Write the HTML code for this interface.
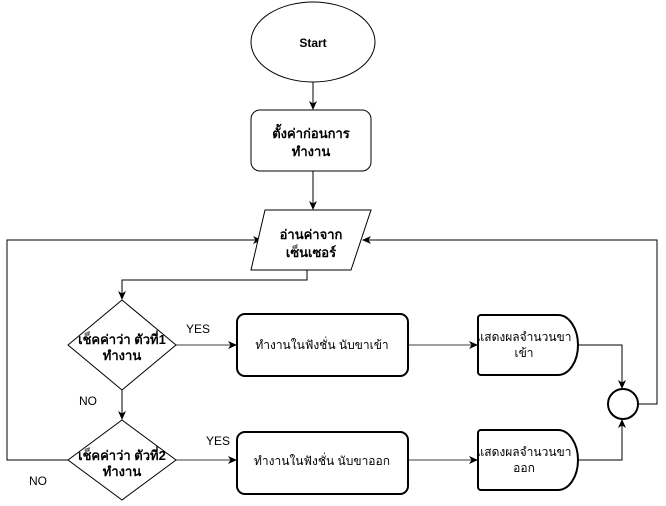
<!DOCTYPE html>
<html><head><meta charset="utf-8"><style>
html,body{margin:0;padding:0;background:#fff;}
text{font-family:"Liberation Sans","DejaVu Sans",sans-serif;font-size:12px;fill:#000;}
.b{font-size:13px;font-weight:bold;}
</style></head><body>
<svg width="666" height="501" viewBox="0 0 666 501" xmlns="http://www.w3.org/2000/svg">
<defs>
<marker id="a" markerWidth="10" markerHeight="10" refX="8" refY="5" orient="auto" markerUnits="userSpaceOnUse">
<path d="M0,1 L9,5 L0,9 L2.5,5 Z" fill="#000"/></marker>
</defs>
<g fill="none" stroke="#000" stroke-width="1">
<path d="M313,82 V109" marker-end="url(#a)"/>
<path d="M313,171 V209" marker-end="url(#a)"/>
<path d="M307,270 V280 H122 V299" marker-end="url(#a)"/>
<path d="M122,390 V419" marker-end="url(#a)"/>
<path d="M68,460 H7 V240 H261" marker-end="url(#a)"/>
<path d="M638,404 H657 V240 H363" marker-end="url(#a)"/>
<path d="M578,345 H622 V388" marker-end="url(#a)"/>
<path d="M578,460 H622 V420" marker-end="url(#a)"/>
</g>
<g fill="none" stroke="#666" stroke-width="1.3">
<path d="M176,345 H236" marker-end="url(#a)"/>
<path d="M408,345 H477" marker-end="url(#a)"/>
<path d="M176,460 H236" marker-end="url(#a)"/>
<path d="M408,460 H477" marker-end="url(#a)"/>
</g>
<g fill="#fff" stroke="#000" stroke-width="1">
<ellipse cx="313" cy="42" rx="62" ry="40"/>
<rect x="251" y="110" width="120" height="61" rx="9"/>
<polygon points="265,210 371,210 351,270 251,270"/>
<polygon points="122,300 176,345 122,390 68,345"/>
<polygon points="122,420 176,460 122,500 68,460"/>
</g>
<g fill="#fff" stroke="#000" stroke-width="2">
<rect x="237" y="314" width="171" height="62" rx="8"/>
<rect x="237" y="432" width="171" height="62" rx="8"/>
<path d="M481,315 H558 A20,30 0 0 1 558,375 H481 A3,3 0 0 1 478,372 V318 A3,3 0 0 1 481,315 Z"/>
<path d="M481,430 H558 A20,30 0 0 1 558,490 H481 A3,3 0 0 1 478,487 V433 A3,3 0 0 1 481,430 Z"/>
<circle cx="623" cy="404" r="15"/>
</g>
<text x="313" y="47" text-anchor="middle" font-weight="bold">Start</text>
<text class="b" x="311" y="138" text-anchor="middle">ตั้งค่าก่อนการ</text>
<text class="b" x="311" y="156" text-anchor="middle">ทำงาน</text>
<text class="b" x="311" y="239" text-anchor="middle">อ่านค่าจาก</text>
<text class="b" x="311" y="257" text-anchor="middle">เซ็นเซอร์</text>
<text class="b" x="122" y="344" text-anchor="middle">เช็คค่าว่า ตัวที่1</text>
<text class="b" x="122" y="360" text-anchor="middle">ทำงาน</text>
<text class="b" x="122" y="460" text-anchor="middle">เช็คค่าว่า ตัวที่2</text>
<text class="b" x="122" y="476" text-anchor="middle">ทำงาน</text>
<text x="322" y="349" text-anchor="middle" font-size="11">ทำงานในฟังชั่น นับขาเข้า</text>
<text x="322" y="465" text-anchor="middle" font-size="11">ทำงานในฟังชั่น นับขาออก</text>
<text x="524" y="341" text-anchor="middle" font-size="10.5">แสดงผลจำนวนขา</text>
<text x="524" y="357" text-anchor="middle" font-size="10.5">เข้า</text>
<text x="524" y="456" text-anchor="middle" font-size="10.5">แสดงผลจำนวนขา</text>
<text x="524" y="472" text-anchor="middle" font-size="10.5">ออก</text>
<text x="198" y="333" text-anchor="middle" font-size="11">YES</text>
<text x="218" y="445" text-anchor="middle" font-size="11">YES</text>
<text x="88" y="405" text-anchor="middle" font-size="11">NO</text>
<text x="38" y="485" text-anchor="middle" font-size="11">NO</text>
</svg>
</body></html>
